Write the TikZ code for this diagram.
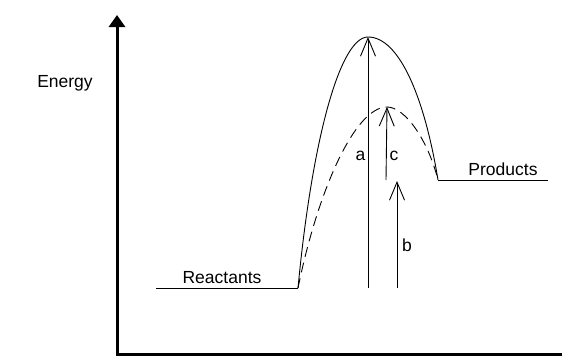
\documentclass[tikz,border=0pt]{standalone}
\usepackage{fontspec}
\setmainfont{Liberation Sans}
\usetikzlibrary{arrows.meta}
\tikzset{
    axis/.style={line width=3pt, line join=miter},
    level/.style={line width=0.9pt},
    ts/.style={level, dash pattern=on 10pt off 6pt},
    barb/.style={level, -{Straight Barb[length=18pt,width=15pt]}},
}
\begin{document}
\begin{tikzpicture}[x=1pt, y=-1pt, font=\fontsize{17.5}{21}\selectfont]
        \useasboundingbox (0,0) rectangle (562,356);
        % points
            \coordinate (origin) at (117,354);
            \coordinate (ytip) at (117,15);
            \coordinate (xend) at (563,354);
            \coordinate (r0) at (156,288);
            \coordinate (r1) at (298,288);
            \coordinate (p0) at (438,180);
            \coordinate (p1) at (548,180);
            \coordinate (peak) at (368,37);
            \coordinate (dpeak) at (387,107);
            \foreach \n/\x/\y in {a0/368/288, c0/386/180, b0/397/288, b1/397/181}{
                \coordinate (\n) at (\x,\y);
            }
        % axes
            \draw[axis, {Triangle[length=12pt,width=16pt]}-] (ytip) -- (origin) -- (xend);
        % levels
            \draw[level] (r0) -- (r1);
            \draw[level] (p0) -- (p1);
        % curves
            \draw[level] (r1) .. controls (312,140) and (340,37) .. (peak)
                .. controls (400,37) and (425,100) .. (p0);
            \draw[ts] (r1) .. controls (318,190) and (355,107) .. (dpeak)
                .. controls (405,107) and (428,140) .. (p0);
        % arrows
            \foreach \s/\e in {a0/peak, c0/dpeak, b0/b1}{
                \draw[barb] (\s) -- (\e);
            }
        % labels
            \node[anchor=base] (energy) at (65,87) {Energy};
            \node[anchor=base] (reactants) at (222,283) {Reactants};
            \node[anchor=base] (products) at (503,175) {Products};
            \foreach \l/\x/\y in {a/360.5/160, c/394/160, b/407/251}{
                \node[anchor=base] (lab\l) at (\x,\y) {\l};
            }
\end{tikzpicture}
\end{document}
